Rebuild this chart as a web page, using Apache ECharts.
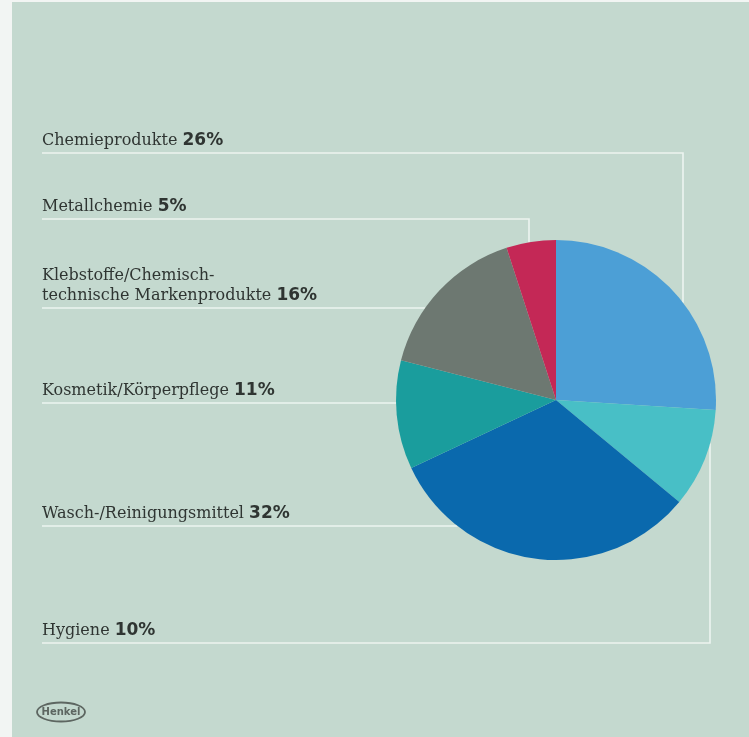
<!DOCTYPE html>
<html>
<head>
<meta charset="utf-8">
<script src="https://cdn.jsdelivr.net/npm/echarts@6/dist/echarts.min.js"></script>
<style>
html,body{margin:0;padding:0;background:#ffffff;}
#chart{width:749px;height:737px;}
</style>
</head>
<body>
<div id="chart"></div>
<script>
// ---- data ----
const categories = [
  'Chemieprodukte',
  'Hygiene',
  'Wasch-/Reinigungsmittel',
  'Kosmetik/Körperpflege',
  'Klebstoffe/Chemisch-\ntechnische Markenprodukte',
  'Metallchemie'
];
const values = [26, 10, 32, 11, 16, 5];
const colors = ['#4c9fd6', '#48bfc6', '#0a69ad', '#1a9d9d', '#6d7871', '#c42856'];

// ---- layout (positions only) ----
const CX = 556, CY = 400, R = 160;
const LEFT_X = 42;
const rowY = [153, 643, 526, 403, 308, 219];      // y of each label's rule line
const cornerX = [683, 710, null, null, null, 529]; // x where the rule turns toward the pie

const chart = echarts.init(document.getElementById('chart'), null, {renderer: 'canvas'});

function edgePoints(i) {
  const ly = rowY[i];
  const cx = cornerX[i];
  if (cx != null) {
    const dy = Math.sqrt(Math.max(0, R * R - (cx - CX) * (cx - CX)));
    const ey = ly < CY ? CY - dy : CY + dy;
    return [[cx, ey], [cx, ly], [LEFT_X, ly]];
  }
  const dx = Math.sqrt(Math.max(0, R * R - (ly - CY) * (ly - CY)));
  const ex = CX - dx;
  return [[ex, ly], [(ex + LEFT_X) / 2, ly], [LEFT_X, ly]];
}

const option = {
  backgroundColor: '#f2f5f3',
  animation: false,
  graphic: [
    {type: 'rect', z: -10, silent: true, shape: {x: 12, y: 2, width: 737, height: 735}, style: {fill: '#c4d9cf'}},
    {type: 'ellipse', z: 10, shape: {cx: 61, cy: 712, rx: 24, ry: 9.5}, style: {fill: 'none', stroke: '#5d6661', lineWidth: 1.8}},
    {type: 'text', z: 10, style: {x: 61, y: 712, text: 'Henkel', align: 'center', verticalAlign: 'middle', fill: '#5d6661', font: 'bold 10px "DejaVu Sans"'}}
  ],
  series: [{
    type: 'pie',
    center: [CX, CY],
    radius: R,
    startAngle: 90,
    clockwise: true,
    avoidLabelOverlap: false,
    data: categories.map((c, i) => ({name: c, value: values[i], itemStyle: {color: colors[i]}})),
    itemStyle: {borderWidth: 0},
    emphasis: {disabled: true},
    label: {
      show: true,
      position: 'outside',
      width: 420,
      overflow: 'none',
      formatter: (p) => '{n|' + p.name + ' }{p|' + values[p.dataIndex] + '%}',
      rich: {
        n: {fontFamily: '"DejaVu Serif"', fontSize: 16, color: '#2f3532', lineHeight: 20},
        p: {fontFamily: '"DejaVu Sans"', fontWeight: 'bold', fontSize: 17, color: '#2f3532', lineHeight: 20}
      }
    },
    labelLine: {
      show: true,
      smooth: false,
      lineStyle: {color: '#edf4f0', width: 1.6}
    },
    labelLayout: (params) => {
      const i = params.dataIndex;
      return {
        x: LEFT_X,
        y: rowY[i] - 2,
        align: 'left',
        verticalAlign: 'bottom',
        labelLinePoints: edgePoints(i)
      };
    }
  }]
};
chart.setOption(option);
</script>
</body>
</html>
